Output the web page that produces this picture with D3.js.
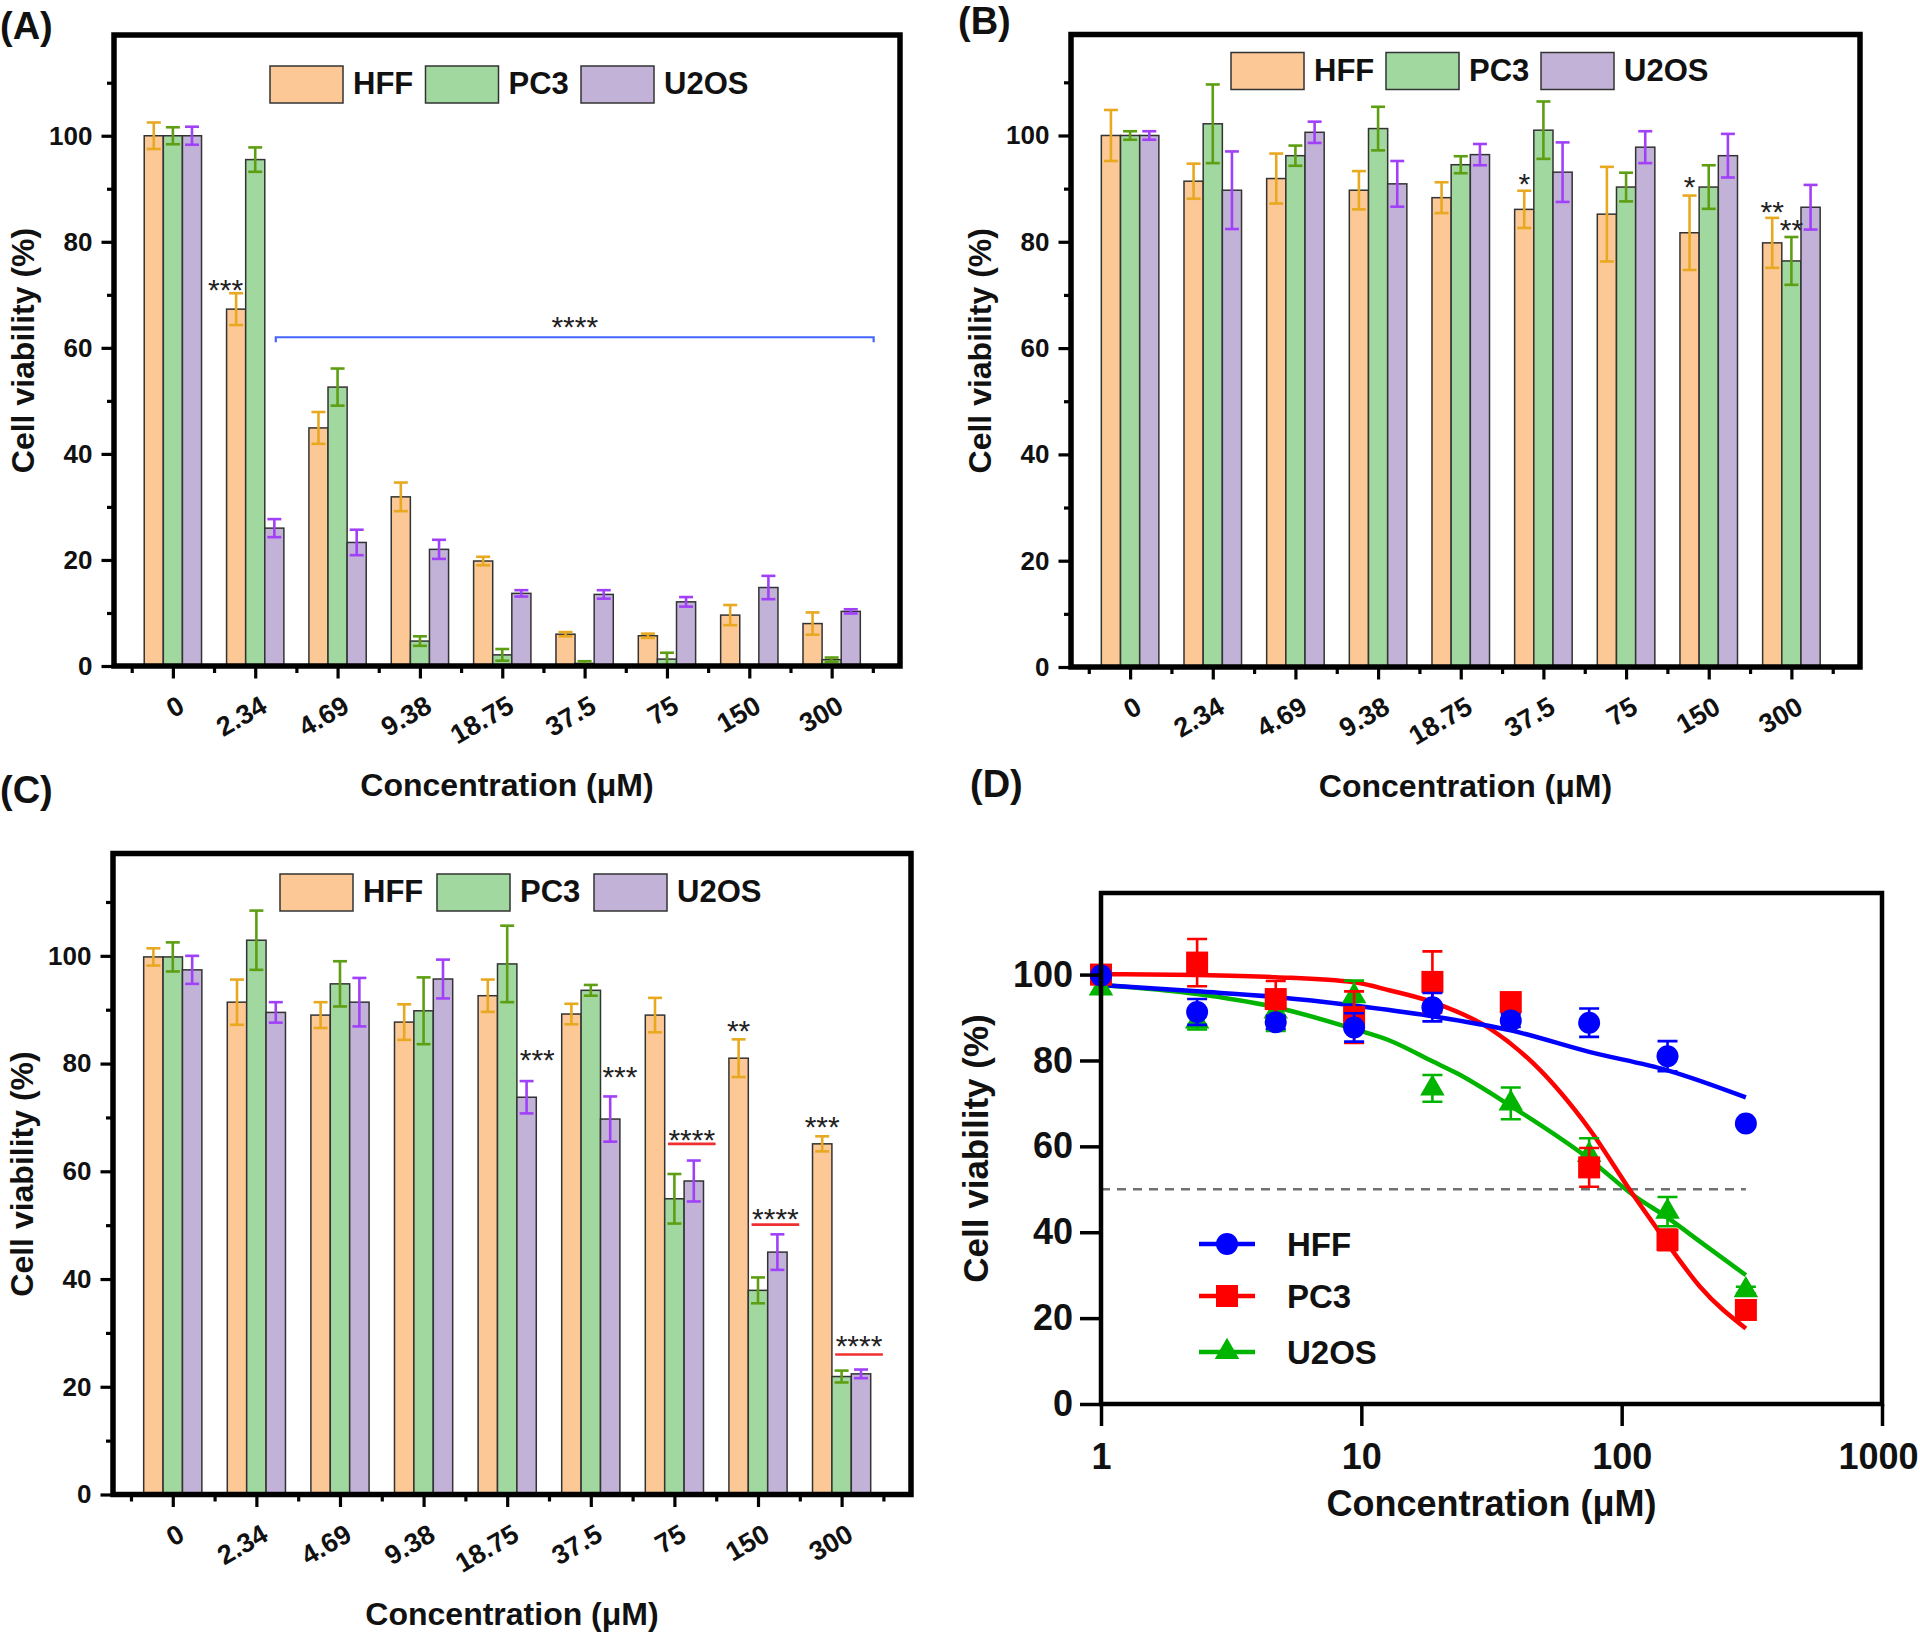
<!DOCTYPE html>
<html><head><meta charset="utf-8">
<script src="https://cdn.jsdelivr.net/npm/d3@7"></script>
<style>
body{margin:0;background:#fff}
svg{display:block;font-family:"Liberation Sans",Arial,sans-serif}
</style>
</head><body>
<svg id="fig" width="1920" height="1632"></svg>
<script>
// ---------- DATA ----------
const categories = ["0","2.34","4.69","9.38","18.75","37.5","75","150","300"];
const seriesNames = ["HFF","PC3","U2OS"];

// Panel A
const A_HFF = [100, 67.3, 44.9, 31.9, 19.8, 6.0, 5.7, 9.6, 8.0];
const A_HFF_err = [2.5, 3.0, 3.0, 2.7, 0.8, 0.4, 0.4, 1.9, 2.1];
const A_PC3 = [100, 95.5, 52.6, 4.7, 2.1, 0.5, 1.3, 0, 1.2];
const A_PC3_err = [1.6, 2.3, 3.5, 0.9, 1.1, 0.4, 1.2, 0, 0.4];
const A_U2OS = [100, 26.0, 23.3, 22.0, 13.7, 13.5, 12.1, 14.8, 10.3];
const A_U2OS_err = [1.7, 1.7, 2.4, 1.8, 0.6, 0.8, 0.9, 2.2, 0.4];
const A_marks = [{cat:1, s:0, v:72.3, t:"***", nudge:-0.55}];
const A_bracket = {from:1.25, to:8.51, v:62, label:"****", labelV:65.2};

// Panel B
const B_HFF = [100, 91.4, 91.9, 89.7, 88.3, 86.1, 85.2, 81.7, 79.8];
const B_HFF_err = [4.8, 3.3, 4.7, 3.6, 2.9, 3.5, 8.9, 7.0, 4.7];
const B_PC3 = [100, 102.2, 96.2, 101.3, 94.5, 101.0, 90.3, 90.3, 76.4];
const B_PC3_err = [0.8, 7.4, 1.9, 4.1, 1.6, 5.4, 2.7, 4.1, 4.5];
const B_U2OS = [100, 89.7, 100.6, 90.9, 96.4, 93.1, 97.8, 96.2, 86.5];
const B_U2OS_err = [0.8, 7.3, 2.0, 4.3, 2.0, 5.6, 3.0, 4.1, 4.2];
const B_marks = [{cat:5,s:0,v:92.1,t:"*"},{cat:7,s:0,v:91.6,t:"*"},{cat:8,s:0,v:87.0,t:"**"},{cat:8,s:1,v:83.5,t:"**"}];

// Panel C
const C_HFF = [99.8, 91.4, 89.0, 87.7, 92.6, 89.2, 89.0, 81.0, 65.1];
const C_HFF_err = [1.6, 4.2, 2.4, 3.3, 3.0, 1.9, 3.2, 3.5, 1.4];
const C_PC3 = [99.8, 102.9, 94.8, 89.8, 98.5, 93.6, 54.9, 37.9, 21.9];
const C_PC3_err = [2.7, 5.5, 4.2, 6.2, 7.1, 1.0, 4.6, 2.4, 1.1];
const C_U2OS = [97.4, 89.5, 91.4, 95.7, 73.75, 69.7, 58.2, 45.0, 22.4];
const C_U2OS_err = [2.6, 1.9, 4.5, 3.6, 3.0, 4.2, 3.8, 3.3, 0.8];
const C_marks = [{cat:4,s:2,v:82.0,t:"***",nudge:0.55},{cat:5,s:2,v:78.9,t:"***",nudge:0.5},
                 {cat:7,s:0,v:87.4,t:"**"},{cat:8,s:0,v:69.5,t:"***"}];
const C_redLines = [{cat:6, v:65.1, labelV:67.2},{cat:7, v:50.1, labelV:52.5},{cat:8, v:26.0, labelV:28.8}];

// Panel D
const D_conc = [1, 2.34, 4.69, 9.38, 18.75, 37.5, 75, 150, 300];
const D_HFF = [99.8, 91.3, 88.9, 87.7, 92.4, 89.3, 88.8, 81.0, 65.3];
const D_HFF_err = [0, 3.0, 1.5, 3.3, 3.3, 1.5, 3.3, 3.5, 0];
const D_PC3 = [100, 102.8, 94.3, 90.1, 98.3, 93.6, 55.1, 38.2, 21.9];
const D_PC3_err = [0, 5.5, 4.2, 6.0, 7.1, 1.0, 4.5, 2.4, 1.0];
const D_U2OS = [96.8, 89.1, 91.4, 95.0, 73.5, 70.0, 58.0, 44.8, 26.5];
const D_U2OS_err = [1.0, 1.9, 4.5, 3.6, 3.1, 3.7, 3.9, 3.4, 0.8];
// fitted curves
const fitX_HFF = [1, 2.34, 4.69, 9.38, 18.75, 37.5, 75, 150, 300];
const fitY_HFF = [97.6, 96.1, 94.8, 92.8, 90.3, 87.0, 82.0, 77.7, 71.4];
const fitX_PC3 = [1, 2.34, 4.69, 9.38, 12.9, 18.75, 31.2, 45.8, 75.6, 107.7, 136.4, 158, 200, 300];
const fitY_PC3 = [100.1, 99.9, 99.4, 98.2, 96.3, 93.6, 87.4, 79.3, 63.8, 49.8, 40.9, 35.4, 27.3, 17.6];
const fitX_U2OS = [1, 2.34, 4.69, 9.38, 12.9, 18.75, 23.3, 37.5, 75.6, 111, 150, 200, 300];
const fitY_U2OS = [97.6, 95.5, 92.4, 87.3, 84.6, 79.8, 77.0, 69.4, 56.9, 48.6, 43.4, 37.8, 30.0];
const D_half = 50;

// ---------- STYLE ----------
const fills = ["#FCC896", "#A0D8A0", "#C2B2D8"];
const errCols = ["#E8A820", "#5E9E12", "#A040F8"];
const dCols = ["#0000FF", "#FF0000", "#00B400"];

const svg = d3.select("#fig");

function barPanel(cfg) {
  const g = svg.append("g");
  const x = d3.scaleLinear().domain([-0.715, 8.83]).range([cfg.left, cfg.right]);
  const y = d3.scaleLinear().domain([0, 119]).range([cfg.bottom, cfg.top]);
  const step = x(1) - x(0);
  const bw = 0.232 * step;
  const bx = (i, s) => x(i) + (s - 1) * bw;

  cfg.vals.forEach((vals, s) => {
    g.append("g").selectAll("rect").data(vals).join("rect")
      .attr("x", (d, i) => bx(i, s) - bw / 2)
      .attr("y", d => y(d))
      .attr("width", bw)
      .attr("height", d => y(0) - y(d))
      .attr("fill", fills[s]).attr("stroke", "#333").attr("stroke-width", 1.5);
  });
  cfg.vals.forEach((vals, s) => {
    const eg = g.append("g").attr("stroke", errCols[s]).attr("stroke-width", 2.6).attr("fill", "none");
    vals.forEach((v, i) => {
      const e = cfg.errs[s][i];
      if (!e) return;
      const cx = bx(i, s), y1 = y(v + e), y2 = y(Math.max(v - e, 0));
      eg.append("line").attr("x1", cx).attr("x2", cx).attr("y1", y1).attr("y2", y2);
      eg.append("line").attr("x1", cx - 7).attr("x2", cx + 7).attr("y1", y1).attr("y2", y1);
      eg.append("line").attr("x1", cx - 7).attr("x2", cx + 7).attr("y1", y2).attr("y2", y2);
    });
  });

  // axes
  const yMaj = g.append("g").attr("transform", `translate(${cfg.left},0)`)
    .call(d3.axisLeft(y).tickValues([0,20,40,60,80,100]).tickSize(12.5).tickPadding(9));
  const yMin = g.append("g").attr("transform", `translate(${cfg.left},0)`)
    .call(d3.axisLeft(y).tickValues([10,30,50,70,90,110]).tickSize(7).tickFormat(""));
  const xMaj = g.append("g").attr("transform", `translate(0,${cfg.bottom})`)
    .call(d3.axisBottom(x).tickValues(d3.range(9)).tickSize(12.5).tickFormat(i => categories[i]));
  const xMin = g.append("g").attr("transform", `translate(0,${cfg.bottom})`)
    .call(d3.axisBottom(x).tickValues(d3.range(-0.5, 9, 1)).tickSize(7).tickFormat(""));
  [yMaj, yMin, xMaj, xMin].forEach(a => {
    a.select(".domain").remove();
    a.selectAll("line").attr("stroke", "#000").attr("stroke-width", 3.2);
  });
  yMaj.selectAll("text").attr("font-size", 26).attr("font-weight", "bold").attr("fill", "#111");
  xMaj.selectAll("text").attr("font-size", 27).attr("font-weight", "bold").attr("fill", "#111")
    .attr("y", null).attr("dy", null).attr("text-anchor", "end")
    .attr("transform", "translate(13,45) rotate(-30)");

  g.append("rect").attr("x", cfg.left).attr("y", cfg.top)
    .attr("width", cfg.right - cfg.left).attr("height", cfg.bottom - cfg.top)
    .attr("fill", "none").attr("stroke", "#000").attr("stroke-width", 5.5);

  // titles
  g.append("text").attr("x", (cfg.left + cfg.right) / 2).attr("y", cfg.bottom + 130)
    .attr("text-anchor", "middle").attr("font-size", 32).attr("font-weight", "bold").attr("fill", "#111")
    .text("Concentration (\u03BCM)");
  g.append("text").attr("transform", `translate(${cfg.left - 80},${(cfg.top + cfg.bottom) / 2}) rotate(-90)`)
    .attr("text-anchor", "middle").attr("font-size", 32).attr("font-weight", "bold").attr("fill", "#111")
    .text("Cell viability (%)");
  g.append("text").attr("x", cfg.label.x).attr("y", cfg.label.y)
    .attr("font-size", 38).attr("font-weight", "bold").attr("fill", "#111").text(cfg.label.text);

  // legend
  seriesNames.forEach((n, s) => {
    const lx = cfg.legend.x + s * cfg.legend.step;
    g.append("rect").attr("x", lx).attr("y", cfg.legend.y).attr("width", 73).attr("height", 37)
      .attr("fill", fills[s]).attr("stroke", "#333").attr("stroke-width", 1.5);
    g.append("text").attr("x", lx + 83).attr("y", cfg.legend.y + 28)
      .attr("font-size", 31).attr("font-weight", "bold").attr("fill", "#111").text(n);
  });

  // significance marks
  const starText = (cx, v, t) => g.append("text").attr("x", cx).attr("y", y(v) + 17)
    .attr("text-anchor", "middle").attr("font-size", 30).attr("fill", "#222").text(t);
  (cfg.marks || []).forEach(m => starText(bx(m.cat, m.s) + (m.nudge || 0) * bw, m.v, m.t));
  if (cfg.bracket) {
    const b = cfg.bracket, yb = y(b.v);
    g.append("path").attr("d", `M${x(b.from)},${yb + 5}V${yb}H${x(b.to)}V${yb + 5}`)
      .attr("fill", "none").attr("stroke", "#4466FF").attr("stroke-width", 2.2);
    starText((x(b.from) + x(b.to)) / 2, b.labelV, b.label);
  }
  (cfg.redLines || []).forEach(r => {
    const cx = x(r.cat + 0.208), hw = 0.285 * step;
    g.append("line").attr("x1", cx - hw).attr("x2", cx + hw).attr("y1", y(r.v)).attr("y2", y(r.v))
      .attr("stroke", "#F03030").attr("stroke-width", 2.6);
    starText(cx, r.labelV, "****");
  });
}

barPanel({left:114, right:900, top:35, bottom:666,
  vals:[A_HFF, A_PC3, A_U2OS], errs:[A_HFF_err, A_PC3_err, A_U2OS_err],
  legend:{x:270, y:66, step:155.5}, label:{text:"(A)", x:0, y:39},
  marks:A_marks, bracket:A_bracket});

barPanel({left:1071, right:1860, top:34.5, bottom:667,
  vals:[B_HFF, B_PC3, B_U2OS], errs:[B_HFF_err, B_PC3_err, B_U2OS_err],
  legend:{x:1231, y:52.5, step:155}, label:{text:"(B)", x:958, y:34},
  marks:B_marks});

barPanel({left:113, right:911, top:853.5, bottom:1494.5,
  vals:[C_HFF, C_PC3, C_U2OS], errs:[C_HFF_err, C_PC3_err, C_U2OS_err],
  legend:{x:280, y:874, step:157}, label:{text:"(C)", x:0, y:803},
  marks:C_marks, redLines:C_redLines});

// ---------- Panel D ----------
(function () {
  const L = 1101, R = 1882, T = 893, B = 1404;
  const g = svg.append("g");
  const x = d3.scaleLog().domain([1, 1000]).range([L, R]);
  const y = d3.scaleLinear().domain([0, 119]).range([B, T]);

  g.append("line").attr("x1", x(1)).attr("x2", x(300)).attr("y1", y(D_half)).attr("y2", y(D_half))
    .attr("stroke", "#707070").attr("stroke-width", 2.6).attr("stroke-dasharray", "9,7");

  const line = d3.line().x(d => x(d[0])).y(d => y(d[1])).curve(d3.curveMonotoneX);
  const fits = [[fitX_HFF, fitY_HFF], [fitX_PC3, fitY_PC3], [fitX_U2OS, fitY_U2OS]];
  [2, 1, 0].forEach(s => {
    g.append("path").attr("d", line(fits[s][0].map((v, i) => [v, fits[s][1][i]])))
      .attr("fill", "none").attr("stroke", dCols[s]).attr("stroke-width", 4.5);
  });

  const vals = [D_HFF, D_PC3, D_U2OS], errs = [D_HFF_err, D_PC3_err, D_U2OS_err];
  const marker = (sel, s, cx, cy) => {
    if (s === 0) sel.append("circle").attr("cx", cx).attr("cy", cy).attr("r", 11).attr("fill", dCols[0]);
    else if (s === 1) sel.append("rect").attr("x", cx - 11).attr("y", cy - 11).attr("width", 22).attr("height", 22).attr("fill", dCols[1]);
    else sel.append("path").attr("d", d3.symbol(d3.symbolTriangle, 260)()).attr("transform", `translate(${cx},${cy})`).attr("fill", dCols[2]);
  };
  [2, 1, 0].forEach(s => {
    const sg = g.append("g");
    vals[s].forEach((v, i) => {
      const cx = x(D_conc[i]), e = errs[s][i];
      if (e) {
        const y1 = y(v + e), y2 = y(v - e);
        sg.append("path").attr("d", `M${cx},${y1}V${y2}M${cx - 10},${y1}H${cx + 10}M${cx - 10},${y2}H${cx + 10}`)
          .attr("stroke", dCols[s]).attr("stroke-width", 2.6).attr("fill", "none");
      }
      marker(sg, s, cx, y(v));
    });
  });

  // frame & axes
  g.append("rect").attr("x", L).attr("y", T).attr("width", R - L).attr("height", B - T)
    .attr("fill", "none").attr("stroke", "#000").attr("stroke-width", 4.5);
  const ya = g.append("g").attr("transform", `translate(${L},0)`)
    .call(d3.axisLeft(y).tickValues([0,20,40,60,80,100]).tickSize(21).tickPadding(7));
  const xa = g.append("g").attr("transform", `translate(0,${B})`)
    .call(d3.axisBottom(x).tickValues([1,10,100,1000]).tickSize(22).tickFormat(d3.format("d")));
  [ya, xa].forEach(a => {
    a.select(".domain").remove();
    a.selectAll("line").attr("stroke", "#000").attr("stroke-width", 3.5);
    a.selectAll("text").attr("font-size", 36).attr("font-weight", "bold").attr("fill", "#111");
  });
  xa.selectAll("text").attr("y", 65).attr("dy", null)
    .attr("dx", d => d === 1000 ? -4 : 0);

  g.append("text").attr("x", (L + R) / 2).attr("y", B + 112).attr("text-anchor", "middle")
    .attr("font-size", 36).attr("font-weight", "bold").attr("fill", "#111").text("Concentration (\u03BCM)");
  g.append("text").attr("transform", `translate(${L - 113},${(T + B) / 2}) rotate(-90)`)
    .attr("text-anchor", "middle").attr("font-size", 35).attr("font-weight", "bold").attr("fill", "#111")
    .text("Cell viability (%)");
  g.append("text").attr("x", 970).attr("y", 797).attr("font-size", 38).attr("font-weight", "bold")
    .attr("fill", "#111").text("(D)");

  // legend
  const ly = [1244, 1296, 1352];
  seriesNames.forEach((n, s) => {
    g.append("line").attr("x1", 1199).attr("x2", 1255).attr("y1", ly[s]).attr("y2", ly[s])
      .attr("stroke", dCols[s]).attr("stroke-width", 4.5);
    marker(g, s, 1227, ly[s]);
    g.append("text").attr("x", 1287).attr("y", ly[s] + 12).attr("font-size", 33).attr("font-weight", "bold")
      .attr("fill", "#111").text(n);
  });
})();
</script>
</body></html>
